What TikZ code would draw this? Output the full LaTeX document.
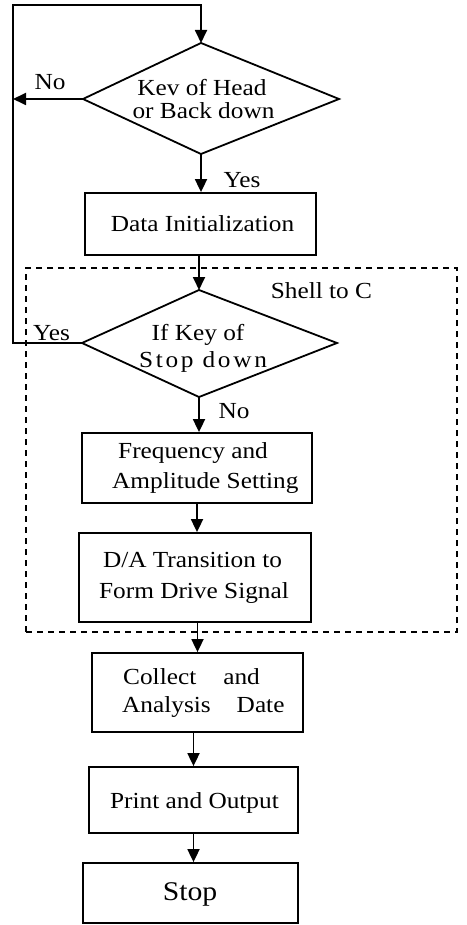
\documentclass[tikz,border=0pt]{standalone}
\usepackage{fontspec}
\setmainfont{Liberation Serif}[FakeStretch=1.1]
\usetikzlibrary{arrows.meta}
\begin{document}
\begin{tikzpicture}[x=1pt,y=-1pt,
  line/.style={line width=1.8pt},
  arr/.style={line width=1.8pt, -{Triangle[width=12pt,length=13pt]}},
  stepbox/.style={draw, line width=1.8pt, inner sep=0pt},
  shellbox/.style={draw, line width=1.5pt, dash pattern=on 6pt off 5pt, inner sep=0pt},
  txt/.style={inner sep=0pt, anchor=base, font=\fontsize{23}{27}\selectfont},
  ltxt/.style={txt, anchor=base west},
  bigtxt/.style={txt, font=\fontsize{27}{31}\selectfont}]
\useasboundingbox (0,0) rectangle (466,925);

% dashed region handled by the C shell
\node[shellbox, minimum width=431pt, minimum height=364pt] (shell) at (241.5,450) {};
\node[txt] (shelllbl) at (321.5,298) {Shell to C};

% first decision
\coordinate (d1n) at (201,43);
\coordinate (d1e) at (339,99);
\coordinate (d1s) at (201,154);
\coordinate (d1w) at (83,99);
\draw[line, line join=miter] (d1n) -- (d1e) -- (d1s) -- (d1w) -- cycle;
\node[txt] (d1a) at (202,96) {Kev of Head};
\node[txt] (d1b) at (203.5,119) {or Back down};

% second decision
\coordinate (d2n) at (199,290);
\coordinate (d2e) at (337,343);
\coordinate (d2s) at (199,397);
\coordinate (d2w) at (82,343);
\draw[line, line join=miter] (d2n) -- (d2e) -- (d2s) -- (d2w) -- cycle;
\node[txt] (d2a) at (198,340) {If Key of};
\node[txt] (d2b) at (203,367) {S\kern2.7pt t\kern2.7pt o\kern2.7pt p\kern2.7pt\ d\kern2.7pt o\kern2.7pt w\kern2.7pt n};

% process boxes
\node[stepbox, minimum width=231pt, minimum height=62pt] (init) at (200.5,224) {};
\node[txt] (initt) at (202.5,232) {Data Initialization};

\node[stepbox, minimum width=230pt, minimum height=70pt] (freq) at (197,468) {};
\node[ltxt] (freqa) at (118,458) {Frequency and};
\node[ltxt] (freqb) at (112,488) {Amplitude Setting};

\node[stepbox, minimum width=232pt, minimum height=89pt] (da) at (195,577.5) {};
\node[txt] (daa) at (192.5,567) {D/A Transition to};
\node[txt] (dab) at (194,598) {Form Drive Signal};

\node[stepbox, minimum width=211pt, minimum height=79pt] (coll) at (197.5,692.5) {};
\node[ltxt] (colla) at (123,684) {Collect\hspace{27pt}and};
\node[ltxt] (collb) at (122,712) {Analysis\hspace{26pt}Date};

\node[stepbox, minimum width=209pt, minimum height=66pt] (print) at (193.5,800) {};
\node[txt] (printt) at (194.5,808) {Print and Output};

\node[stepbox, minimum width=215pt, minimum height=60pt] (stop) at (190.5,893) {};
\node[bigtxt] (stopt) at (190,900) {Stop};

% loop back to the first decision
\coordinate (loopTL) at (13,5);
\draw[arr] (d2w) -| (loopTL) -| (d1n);
\draw[arr] (d1w) -- (d1w -| loopTL);
\node[txt] (nolbl1) at (50,90) {No};
\node[txt] (yeslbl2) at (51.5,340) {Yes};

% main flow
\draw[arr] (d1s) -- (d1s |- init.north);
\node[txt] (yeslbl1) at (242,188) {Yes};
\draw[arr] (d2n |- init.south) -- (d2n);
\draw[arr] (d2s) -- (d2s |- freq.north);
\node[txt] (nolbl2) at (234,418) {No};
\draw[arr] (freq.south) -- (freq.south |- da.north);
\draw[arr] (coll.north |- da.south) -- (coll.north);
\draw[arr] (print.north |- coll.south) -- (print.north);
\draw[arr] (print.south) -- (print.south |- stop.north);
\end{tikzpicture}
\end{document}
